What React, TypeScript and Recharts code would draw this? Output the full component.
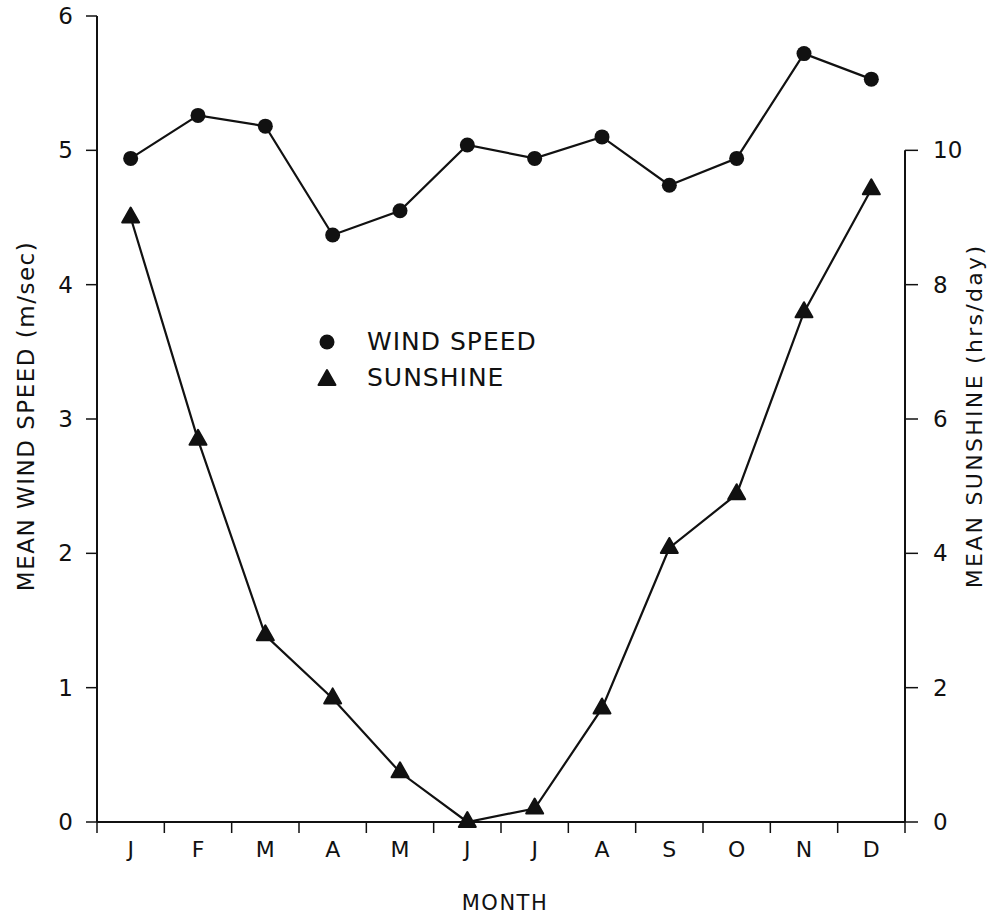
import React from 'react';
import { LineChart, Line, XAxis, YAxis, ReferenceLine, Legend } from 'recharts';

const INK = '#111';
const FONT = '"DejaVu Sans", sans-serif';

const months = ['J', 'F', 'M', 'A', 'M', 'J', 'J', 'A', 'S', 'O', 'N', 'D'];
const windSpeed = [4.94, 5.26, 5.18, 4.37, 4.55, 5.04, 4.94, 5.1, 4.74, 4.94, 5.72, 5.53];
const sunshine = [9.0, 5.69, 2.78, 1.84, 0.74, 0.0, 0.2, 1.69, 4.08, 4.88, 7.59, 9.42];
const windTicks = [0, 1, 2, 3, 4, 5, 6];
const sunTicks = [0, 2, 4, 6, 8, 10];

// each month sits in the middle of its slot; slot edges carry the tick marks
const data = months.map((m, i) => ({ month: m, pos: i + 0.5, wind: windSpeed[i], sun: sunshine[i] }));
const monthEdges = months.map((_, i) => i).concat(months.length);
const xTicks = [...monthEdges, ...data.map((d) => d.pos)].sort((a, b) => a - b);

function MonthTick({ x, y, payload }: any) {
  const v = payload.value;
  if (Number.isInteger(v)) {
    return <line x1={x} y1={y} x2={x} y2={y + 11} stroke={INK} strokeWidth={1.5} />;
  }
  return (
    <text x={x} y={y + 35} textAnchor="middle" fill={INK} fontSize={22} fontFamily={FONT}>
      {months[Math.floor(v)]}
    </text>
  );
}

function Triangle({ cx, cy }: any) {
  if (cx == null || cy == null) return null;
  return (
    <path
      d={`M${cx},${cy - 10} L${cx + 8.5},${cy + 5} L${cx - 8.5},${cy + 5} Z`}
      fill={INK}
      stroke={INK}
      strokeWidth={2}
      strokeLinejoin="round"
    />
  );
}

function LeftTitle({ viewBox }: any) {
  const cx = viewBox.x + 18;
  const cy = viewBox.y + viewBox.height / 2 - 3;
  return (
    <text x={cx} y={cy} transform={`rotate(-90 ${cx} ${cy})`} textAnchor="middle" dominantBaseline="central"
      fill={INK} fontSize={23} fontFamily={FONT} letterSpacing={1.5}>
      MEAN WIND SPEED (m/sec)
    </text>
  );
}

function RightTitle({ viewBox }: any) {
  const cx = viewBox.x + 69;
  const cy = viewBox.y + viewBox.height / 2 - 3;
  return (
    <text x={cx} y={cy} transform={`rotate(-90 ${cx} ${cy})`} textAnchor="middle" dominantBaseline="central"
      fill={INK} fontSize={22} fontFamily={FONT} letterSpacing={2.3}>
      MEAN SUNSHINE (hrs/day)
    </text>
  );
}

function MonthTitle({ viewBox }: any) {
  return (
    <text x={viewBox.x + viewBox.width / 2 + 4} y={viewBox.y + 88} textAnchor="middle"
      fill={INK} fontSize={21} fontFamily={FONT} letterSpacing={1.5}>
      MONTH
    </text>
  );
}

const legendItems = [
  { label: 'WIND SPEED', shape: 'circle' },
  { label: 'SUNSHINE', shape: 'triangle' },
];

const renderLegend = () => (
  <div style={{ fontFamily: FONT, fontSize: 25, color: INK, letterSpacing: 1 }}>
    {legendItems.map((it) => (
      <div key={it.label} style={{ display: 'flex', alignItems: 'center', height: 36 }}>
        <svg width={22} height={22}>
          {it.shape === 'circle' ? <circle cx={11} cy={11} r={7.5} fill={INK} /> : <Triangle cx={11} cy={13} />}
        </svg>
        <span style={{ marginLeft: 29, lineHeight: '36px' }}>{it.label}</span>
      </div>
    ))}
  </div>
);

export default function App() {
  return (
    <div>
      <style>{'html, body { margin: 0; padding: 0; overflow: hidden; }'}</style>
      <LineChart width={988} height={916} data={data} margin={{ top: 16, right: 0, bottom: 0, left: 8 }}
        style={{ fontFamily: FONT }}>
        <XAxis
          dataKey="pos"
          type="number"
          domain={[0, 12]}
          ticks={xTicks}
          interval={0}
          tickSize={0}
          tickMargin={0}
          tickLine={false}
          tick={<MonthTick />}
          axisLine={{ stroke: INK, strokeWidth: 2 }}
          height={94}
          label={<MonthTitle />}
        />
        <YAxis
          yAxisId="wind"
          domain={[0, 6]}
          ticks={windTicks}
          interval={0}
          width={89}
          tickSize={11}
          tickMargin={13}
          axisLine={{ stroke: INK, strokeWidth: 2 }}
          tickLine={{ stroke: INK, strokeWidth: 1.5 }}
          tick={{ fill: INK, fontSize: 23, fontFamily: FONT }}
          label={<LeftTitle />}
        />
        <YAxis
          yAxisId="sun"
          orientation="right"
          domain={[0, 12]}
          ticks={sunTicks}
          interval={0}
          width={83}
          tickSize={13}
          tickMargin={15}
          axisLine={false}
          tickLine={{ stroke: INK, strokeWidth: 1.5 }}
          tick={{ fill: INK, fontSize: 23, fontFamily: FONT, textAnchor: 'start' }}
          label={<RightTitle />}
        />
        <ReferenceLine
          yAxisId="sun"
          segment={[{ x: 12, y: 0 }, { x: 12, y: 10 }]}
          stroke={INK}
          strokeWidth={2}
        />
        <Legend
          layout="vertical"
          align="center"
          verticalAlign="middle"
          content={renderLegend}
          wrapperStyle={{ top: 324, left: 316, width: 260 }}
        />
        <Line
          yAxisId="wind"
          dataKey="wind"
          type="linear"
          stroke={INK}
          strokeWidth={2.2}
          dot={{ r: 7.5, fill: INK, stroke: INK, strokeWidth: 0 }}
          activeDot={false}
          isAnimationActive={false}
        />
        <Line
          yAxisId="sun"
          dataKey="sun"
          type="linear"
          stroke={INK}
          strokeWidth={2.2}
          dot={<Triangle />}
          activeDot={false}
          isAnimationActive={false}
        />
      </LineChart>
    </div>
  );
}
